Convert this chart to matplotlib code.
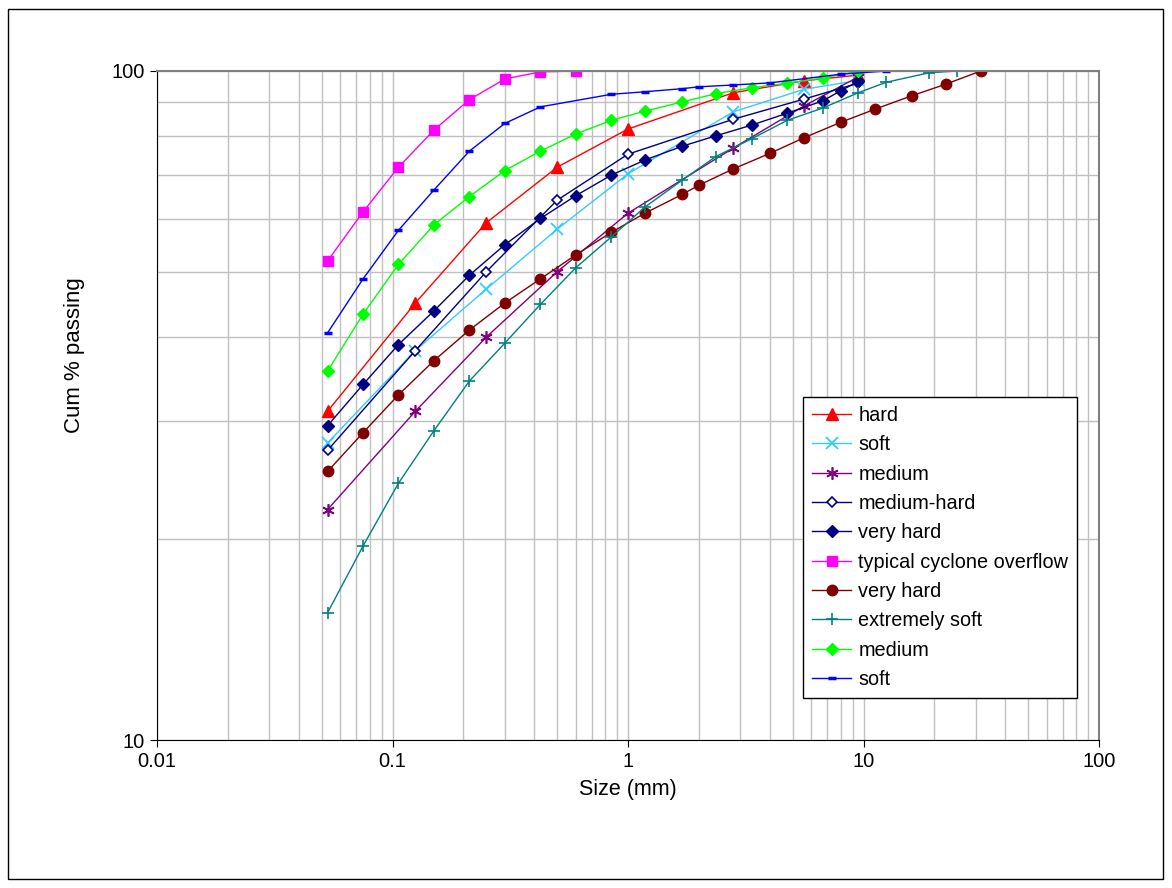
import numpy as np
import matplotlib
matplotlib.use('Agg')
import matplotlib.pyplot as plt
from matplotlib.patches import Rectangle
from matplotlib.ticker import LogLocator, FixedLocator, NullFormatter, FixedFormatter

plt.rcParams['font.family'] = ['Liberation Sans', 'DejaVu Sans']

# Sieve sizes (mm) and cumulative % passing for each series
hard_x = [0.053, 0.125, 0.25, 0.5, 1.0, 2.8, 5.6, 9.5]
hard_y = [31.0, 45.0, 59.3, 71.8, 81.9, 92.8, 96.7, 98.6]

soft_x = [0.053, 0.125, 0.25, 0.5, 1.0, 2.8, 5.6, 9.5]
soft_y = [27.8, 38.2, 47.2, 58.0, 70.2, 86.9, 93.9, 96.8]

medium_x = [0.053, 0.125, 0.25, 0.5, 1.0, 2.8, 5.6, 9.5]
medium_y = [22.1, 31.0, 40.0, 50.1, 61.3, 76.7, 88.7, 98.0]

medhard_x = [0.053, 0.125, 0.25, 0.5, 1.0, 2.8, 5.6, 9.5]
medhard_y = [27.1, 38.2, 50.1, 64.1, 75.1, 84.7, 90.8, 95.9]

vhard1_x = [0.053, 0.075, 0.106, 0.15, 0.212, 0.3, 0.425, 0.6, 0.85, 1.18,
            1.7, 2.36, 3.35, 4.75, 6.7, 8.0, 9.5]
vhard1_y = [29.5, 34.0, 39.0, 43.8, 49.5, 55.0, 60.2, 65.1, 69.9, 73.6,
            77.2, 80.0, 83.0, 86.5, 90.2, 93.4, 96.5]

cyclone_x = [0.053, 0.075, 0.106, 0.15, 0.212, 0.3, 0.425, 0.6]
cyclone_y = [52.0, 61.6, 71.8, 81.6, 90.6, 97.3, 99.7, 100.0]

vhard2_x = [0.053, 0.075, 0.106, 0.15, 0.212, 0.3, 0.425, 0.6, 0.85, 1.18,
            1.7, 2.0, 2.8, 4.0, 5.6, 8.0, 11.2, 16.0, 22.4, 31.5]
vhard2_y = [25.2, 28.8, 32.8, 36.9, 41.0, 45.0, 48.9, 53.1, 57.4, 61.3,
            65.4, 67.5, 71.4, 75.3, 79.5, 83.8, 87.7, 91.8, 95.6, 100.0]

xsoft_x = [0.053, 0.075, 0.106, 0.15, 0.212, 0.3, 0.425, 0.6, 0.85, 1.18,
           1.7, 2.36, 3.35, 4.75, 6.7, 9.5, 12.5, 19.0, 25.0]
xsoft_y = [15.5, 19.5, 24.2, 29.0, 34.4, 39.2, 44.8, 50.8, 56.5, 62.6,
           68.7, 74.5, 79.2, 84.4, 88.0, 92.8, 96.2, 99.4, 100.0]

medium2_x = [0.053, 0.075, 0.106, 0.15, 0.212, 0.3, 0.425, 0.6, 0.85, 1.18,
             1.7, 2.36, 3.35, 4.75, 6.7, 9.5]
medium2_y = [35.6, 43.3, 51.4, 58.9, 64.9, 71.0, 75.9, 80.5, 84.4, 87.1,
             89.9, 92.5, 94.4, 95.9, 97.6, 100.0]

soft2_x = [0.053, 0.075, 0.106, 0.15, 0.212, 0.3, 0.425, 0.85, 1.18, 1.7,
           2.0, 2.8, 4.0, 8.0, 12.5]
soft2_y = [40.6, 48.9, 57.8, 66.4, 75.9, 83.5, 88.4, 92.3, 93.1, 94.1,
           94.7, 95.3, 96.0, 98.9, 100.0]

fig = plt.figure(figsize=(11.72, 8.88), dpi=100)
ax = fig.add_axes([157/1172, 1 - 740/888, 942/1172, 669/888])

lw = 1.0
ax.plot(hard_x, hard_y, color='#FF0000', marker='^', ms=8, lw=lw, label='hard')
ax.plot(soft_x, soft_y, color='#33CCFF', marker='x', ms=8, mew=1.3, lw=lw, label='soft')
ax.plot(medium_x, medium_y, color='#800080', marker=(6, 2, 0), ms=9, mew=1.2, lw=lw, label='medium')
ax.plot(medhard_x, medhard_y, color='#000080', marker='D', ms=5.5, mfc='white', mew=1.2, lw=lw, label='medium-hard')
ax.plot(vhard1_x, vhard1_y, color='#000080', marker='D', ms=6, lw=lw, label='very hard')
ax.plot(cyclone_x, cyclone_y, color='#FF00FF', marker='s', ms=7, lw=lw, label='typical cyclone overflow')
ax.plot(vhard2_x, vhard2_y, color='#800000', marker='o', ms=7.5, lw=lw, label='very hard')
ax.plot(xsoft_x, xsoft_y, color='#008080', marker='+', ms=9, mew=1.2, lw=lw, label='extremely soft')
ax.plot(medium2_x, medium2_y, color='#00FF00', marker='D', ms=6, lw=lw, label='medium')
ax.plot(soft2_x, soft2_y, color='#0000FF', marker='_', ms=6, mew=2.5, lw=lw, label='soft')

ax.set_xscale('log')
ax.set_yscale('log')
ax.set_xlim(0.01, 100)
ax.set_ylim(10, 100)

ax.xaxis.set_minor_locator(LogLocator(base=10, subs=np.arange(2, 10), numticks=20))
ax.xaxis.set_minor_formatter(NullFormatter())
ax.set_xticks([0.01, 0.1, 1, 10, 100])
ax.set_xticklabels(['0.01', '0.1', '1', '10', '100'])

ax.yaxis.set_major_locator(FixedLocator([10, 100]))
ax.yaxis.set_major_formatter(FixedFormatter(['10', '100']))
ax.yaxis.set_minor_locator(FixedLocator([20, 30, 40, 50, 60, 70, 80, 90]))
ax.yaxis.set_minor_formatter(NullFormatter())

ax.grid(True, which='both', color='#C0C0C0', lw=1.0)
ax.set_axisbelow(True)
ax.tick_params(which='major', direction='out', length=5, labelsize=14.5, color='black')
ax.tick_params(which='minor', length=0)
for s in ['top', 'right']:
    ax.spines[s].set_color('#808080')
    ax.spines[s].set_linewidth(1.5)
for s in ['left', 'bottom']:
    ax.spines[s].set_color('black')

ax.set_xlabel('Size (mm)', fontsize=15.5, labelpad=6)
ax.set_ylabel('Cum % passing', fontsize=16)
ax.yaxis.set_label_coords(-0.076, 0.575)

leg = ax.legend(loc='lower right', bbox_to_anchor=(0.977, 0.063), fontsize=14.3,
                fancybox=False, framealpha=1, edgecolor='black',
                handlelength=2.0, labelspacing=0.52, borderpad=0.45, handletextpad=0.35,
                borderaxespad=0.0)
leg.get_frame().set_linewidth(1.0)

fig.patches.append(Rectangle((8/1172, 9/888), 1155/1172, 870/888, transform=fig.transFigure,
                             fill=False, edgecolor='black', lw=1.0))

fig.savefig('out.png', dpi=100)
